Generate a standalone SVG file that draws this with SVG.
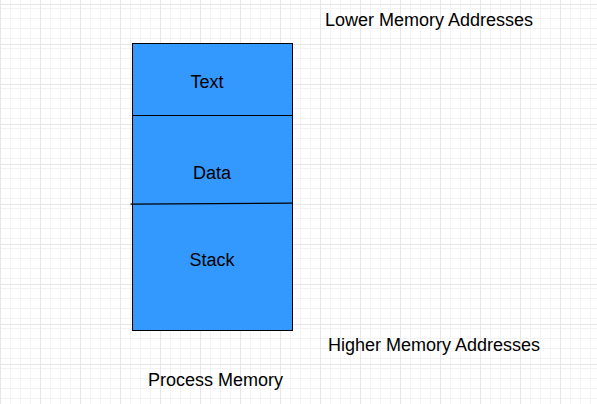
<svg xmlns="http://www.w3.org/2000/svg" width="597" height="404" viewBox="0 0 597 404">
  <defs>
    <pattern id="minor" x="0" y="4" width="10" height="10" patternUnits="userSpaceOnUse">
      <path d="M0.5 0V10M0 0.5H10" stroke="#f3f3f3" stroke-width="1" fill="none"/>
    </pattern>
    <pattern id="major" x="0" y="4" width="40" height="40" patternUnits="userSpaceOnUse">
      <rect width="40" height="40" fill="url(#minor)"/>
      <path d="M0.5 0V40M0 0.5H40" stroke="#e6e6e6" stroke-width="1" fill="none"/>
    </pattern>
    <style>
      .lbl { font-family: "Liberation Sans", Arial, sans-serif; font-size: 18px; fill: #000; }
      .seg { fill: #3399ff; stroke: #000; stroke-width: 1; }
    </style>
  </defs>
  <rect width="597" height="404" fill="#ffffff"/>
  <rect width="597" height="404" fill="url(#major)"/>
  <g id="memory">
    <rect class="seg" x="132.5" y="43.5" width="160" height="287"/>
  </g>
  <g id="connectors">
    <path d="M132.5 115.5H292.5" stroke="#000" stroke-width="1" fill="none"/>
    <path d="M130.5 204.2L292.5 203.2" stroke="#000" stroke-width="1.2" fill="none"/>
  </g>
  <g id="text-seg"><text class="lbl" x="207" y="88" text-anchor="middle">Text</text></g>
  <g id="data-seg"><text class="lbl" x="212" y="179" text-anchor="middle">Data</text></g>
  <g id="stack-seg"><text class="lbl" x="212" y="266" text-anchor="middle">Stack</text></g>
  <g id="lower"><text class="lbl" x="325" y="26">Lower Memory Addresses</text></g>
  <g id="higher"><text class="lbl" x="328" y="351">Higher Memory Addresses</text></g>
  <g id="title"><text class="lbl" x="148" y="386">Process Memory</text></g>
</svg>
